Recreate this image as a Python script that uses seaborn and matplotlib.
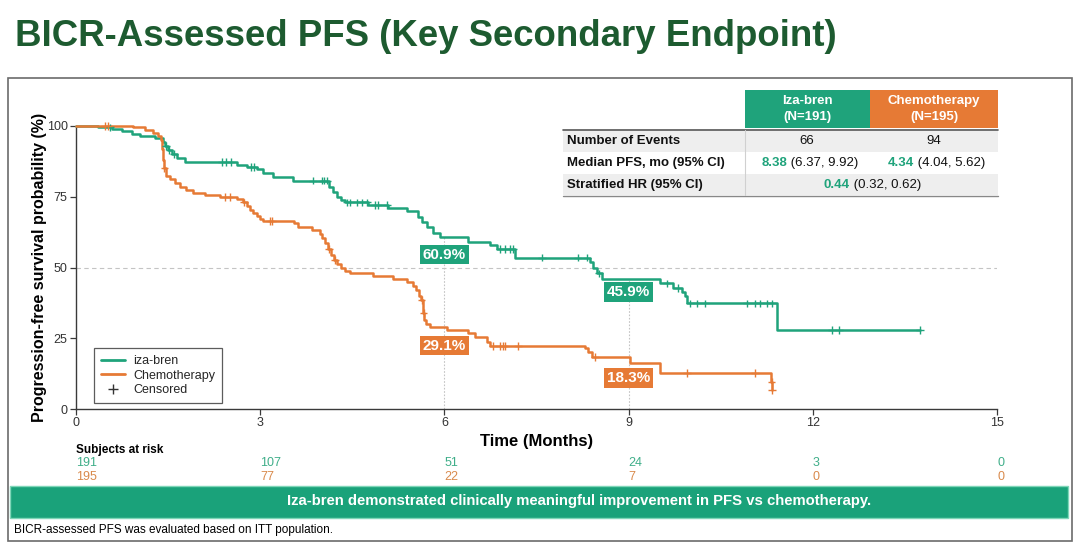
import numpy as np
import pandas as pd
import matplotlib
matplotlib.use("Agg")
import matplotlib.pyplot as plt
import matplotlib.transforms as mtrans
import seaborn as sns
from matplotlib.patches import Rectangle
from matplotlib.lines import Line2D
from matplotlib import font_manager as fm

# ------------------------------------------------------------------ data
months = [0, 3, 6, 9, 12, 15]
pfs_ticks = [0, 25, 50, 75, 100]

iza_time = [0, 0.36, 0.59, 0.75, 0.91, 1.04, 1.29, 1.42, 1.45, 1.50, 1.56, 1.64, 1.78,
            2.62, 2.79, 2.95, 3.05, 3.21, 3.53, 4.12, 4.19, 4.25, 4.32, 4.38, 4.76, 5.08,
            5.39, 5.57, 5.64, 5.72, 5.81, 5.93, 6.38, 6.74, 6.86, 7.15, 8.37, 8.42, 8.49,
            8.57, 9.51, 9.72, 9.87, 9.92, 9.95, 11.42, 13.75]
iza_surv = [100, 99.5, 98.9, 98.1, 97.3, 96.5, 95.6, 94.5, 92.9, 91.5, 90.1, 88.7, 87.3,
            86.2, 85.6, 84.7, 83.3, 82.1, 80.7, 78.4, 76.8, 75.0, 73.9, 73.0, 72.1, 71.2,
            70.1, 68.0, 66.2, 64.4, 62.3, 60.9, 59.1, 57.9, 56.5, 53.5, 52.0, 49.7, 47.9,
            45.9, 44.4, 42.7, 41.5, 39.9, 37.3, 27.9, 27.9]
iza_censor = [0.55, 1.47, 1.52, 1.60, 2.38, 2.45, 2.52, 2.85, 2.90, 3.86, 4.01, 4.04,
              4.09, 4.41, 4.46, 4.58, 4.66, 4.74, 4.87, 4.92, 5.07, 6.91, 6.99, 7.07,
              7.12, 7.59, 8.18, 8.32, 8.52, 9.62, 9.80, 10.00, 10.11, 10.24, 10.93,
              11.06, 11.14, 11.25, 11.34, 12.31, 12.43, 13.75]

chemo_time = [0, 0.93, 1.12, 1.25, 1.34, 1.38, 1.40, 1.42, 1.43, 1.47, 1.53, 1.61, 1.69,
              1.79, 1.91, 2.10, 2.35, 2.62, 2.72, 2.79, 2.83, 2.88, 2.95, 3.00, 3.05,
              3.55, 3.62, 3.84, 3.97, 4.01, 4.06, 4.10, 4.15, 4.20, 4.25, 4.32, 4.38,
              4.46, 4.84, 5.16, 5.39, 5.49, 5.54, 5.59, 5.62, 5.65, 5.67, 5.70, 5.77,
              6.04, 6.38, 6.50, 6.69, 6.74, 8.29, 8.34, 8.40, 9.02, 9.51, 11.32, 11.34]
chemo_surv = [100, 99.5, 98.6, 97.5, 96.5, 95.0, 92.0, 88.0, 85.0, 82.5, 81.3, 79.9, 78.4,
              77.4, 76.3, 75.6, 75.0, 74.2, 73.0, 71.8, 70.4, 69.3, 68.2, 67.2, 66.4,
              65.6, 64.4, 63.3, 62.0, 60.5, 58.7, 56.5, 54.4, 52.7, 51.2, 49.9, 48.8,
              48.0, 47.0, 45.9, 44.8, 43.6, 42.0, 40.0, 38.5, 34.0, 31.5, 30.0, 29.1,
              27.9, 26.7, 25.3, 23.8, 22.3, 21.4, 20.2, 18.3, 16.1, 12.8, 9.6, 6.7]
chemo_censor = [0.47, 0.52, 1.44, 2.43, 2.50, 2.74, 3.16, 3.19, 4.12, 4.22, 5.63, 5.66,
                6.79, 6.91, 6.95, 6.99, 7.20, 8.45, 9.95, 11.06, 11.33, 11.34]

risk_iza = [191, 107, 51, 24, 3, 0]
risk_chemo = [195, 77, 22, 7, 0, 0]

landmarks = [6, 9]
iza_landmark = [60.9, 45.9]
chemo_landmark = [29.1, 18.3]

arm_names = ["iza-bren", "Chemotherapy"]
table_rows = ["Number of Events", "Median PFS, mo (95% CI)", "Stratified HR (95% CI)"]
headers = ["Iza-bren\n(N=191)", "Chemotherapy\n(N=195)"]
events = ["66", "94"]
median_est = ["8.38", "4.34"]
median_ci = [" (6.37, 9.92)", " (4.04, 5.62)"]
hr_est = "0.44"
hr_ci = " (0.32, 0.62)"

title = "BICR-Assessed PFS (Key Secondary Endpoint)"
banner = "Iza-bren demonstrated clinically meaningful improvement in PFS vs chemotherapy."
footnote = "BICR-assessed PFS was evaluated based on ITT population."

# ------------------------------------------------------------------ style
GREEN = "#1fa37b"
ORANGE = "#e67a35"
DARKGREEN = "#1d5b30"
BANNER = "#1aa27a"

sns.set_theme(style="ticks")
avail = {f.name for f in fm.fontManager.ttflist}
NARROW = "Liberation Sans Narrow" if "Liberation Sans Narrow" in avail else "Liberation Sans"
plt.rcParams["font.family"] = [NARROW, "DejaVu Sans"]

W, H = 1080, 544
fig = plt.figure(figsize=(W / 100, H / 100), dpi=100)
fig.patch.set_facecolor("white")


def fx(x):
    return x / W


def fy(y):
    return 1 - y / H


def fit_width(t, target):
    r = fig.canvas.get_renderer()
    bb = t.get_window_extent(r)
    t.set_fontsize(t.get_fontsize() * target / bb.width)


# frame
fig.add_artist(Rectangle((fx(8), fy(541)), fx(1064), 463 / H, transform=fig.transFigure,
                         fill=False, ec="#6b6b6b", lw=1.2))

# title
tt = fig.text(fx(15), fy(37), title, ha="left", va="center", fontsize=30,
              fontweight="bold", color=DARKGREEN)
fit_width(tt, 823)

# ------------------------------------------------------------------ KM axes
ax = fig.add_axes([fx(76), fy(409), 921 / W, 283 / H])

df = pd.concat([
    pd.DataFrame({"Month": iza_time, "PFS": iza_surv, "Arm": arm_names[0]}),
    pd.DataFrame({"Month": chemo_time, "PFS": chemo_surv, "Arm": arm_names[1]}),
])


def surv_at(times, surv, cens):
    idx = np.searchsorted(np.asarray(times), np.asarray(cens), side="right") - 1
    return np.asarray(surv)[idx]


cdf = pd.concat([
    pd.DataFrame({"Month": iza_censor, "PFS": surv_at(iza_time, iza_surv, iza_censor),
                  "Arm": arm_names[0]}),
    pd.DataFrame({"Month": chemo_censor, "PFS": surv_at(chemo_time, chemo_surv, chemo_censor),
                  "Arm": arm_names[1]}),
])
pal = {arm_names[0]: GREEN, arm_names[1]: ORANGE}

# reference lines
ax.axhline(50, color="#c4c4c4", lw=0.8, ls=(0, (4, 3)), zorder=0)
ax.vlines(landmarks, 0, iza_landmark, colors="#c4c4c4", lw=0.8, ls=(0, (1.5, 1.5)), zorder=0)

sns.lineplot(data=df, x="Month", y="PFS", hue="Arm", palette=pal, drawstyle="steps-post",
             estimator=None, sort=False, legend=False, lw=1.8, ax=ax, clip_on=False, zorder=3)
sns.scatterplot(data=cdf, x="Month", y="PFS", hue="Arm", palette=pal, marker="+", s=30,
                linewidth=1.0, legend=False, ax=ax, clip_on=False, zorder=4)

# landmark labels
iza_dy = [-18, -13]
chemo_dy = [-19, -21]
for m, v, dy in zip(landmarks, iza_landmark, iza_dy):
    ax.annotate(f"{v:.1f}%", (m, v), xytext=(0, dy * 0.72), textcoords="offset points",
                ha="center", va="center", color="white", fontsize=11, fontweight="bold",
                bbox=dict(boxstyle="square,pad=0.18", fc=GREEN, ec="none"), zorder=5)
for m, v, dy in zip(landmarks, chemo_landmark, chemo_dy):
    ax.annotate(f"{v:.1f}%", (m, v), xytext=(0, dy * 0.72), textcoords="offset points",
                ha="center", va="center", color="white", fontsize=11, fontweight="bold",
                bbox=dict(boxstyle="square,pad=0.18", fc=ORANGE, ec="none"), zorder=5)

ax.set_xlim(0, 15)
ax.set_ylim(0, 100)
ax.set_xticks(months)
ax.set_yticks(pfs_ticks)
ax.set_xticklabels([str(m) for m in months])
ax.set_yticklabels([str(p) for p in pfs_ticks])
sns.despine(ax=ax)
for s in ["left", "bottom"]:
    ax.spines[s].set_color("#3a3a3a")
    ax.spines[s].set_linewidth(1.0)
ax.tick_params(length=4, width=0.9, color="#3a3a3a", labelsize=9, labelcolor="#333333", pad=2)
ax.set_facecolor("white")

ax.set_xlabel("Time (Months)", fontsize=12, fontweight="bold", color="black")
ax.set_ylabel("Progression-free survival probability (%)", fontsize=11.5, fontweight="bold",
              color="black")
ax.xaxis.set_label_coords(0.5, -0.088)
ax.yaxis.set_label_coords(-0.032, 0.5)

# legend
handles = [Line2D([], [], color=GREEN, lw=2), Line2D([], [], color=ORANGE, lw=2),
           Line2D([], [], color="#333333", marker="+", ls="none", ms=7, mew=1)]
leg = ax.legend(handles, [arm_names[0], arm_names[1], "Censored"], loc="lower left",
                bbox_to_anchor=(0.0195, 0.021), borderaxespad=0, frameon=True, fancybox=False,
                edgecolor="#333333", fontsize=9, handlelength=1.9, handletextpad=0.7,
                labelspacing=0.2, borderpad=0.55)
leg.get_frame().set_linewidth(0.9)

# number at risk
blend = mtrans.blended_transform_factory(ax.transData, ax.transAxes)
ax.text(0, -0.145, "Subjects at risk", transform=blend, ha="left", va="center",
        fontsize=8.5, fontweight="bold", color="black")
for m, a, b in zip(months, risk_iza, risk_chemo):
    ax.text(m, -0.192, str(a), transform=blend, ha="left", va="center", fontsize=9,
            color="#3fae89")
    ax.text(m, -0.241, str(b), transform=blend, ha="left", va="center", fontsize=9,
            color="#d98a4c")

# ------------------------------------------------------------------ summary table
TL, TC, TR = 563, 745, 998
col_mid = [807, 934]
fig.add_artist(Rectangle((fx(TC), fy(128)), fx(870 - TC), 38 / H, transform=fig.transFigure,
                         fc=GREEN, ec="none"))
fig.add_artist(Rectangle((fx(870), fy(128)), fx(TR - 870), 38 / H, transform=fig.transFigure,
                         fc=ORANGE, ec="none"))
for cx, h in zip(col_mid, headers):
    fig.text(fx(cx), fy(109), h, ha="center", va="center", color="white", fontsize=9.5,
             fontweight="bold", linespacing=1.35)
for (y0, y1) in [(130.5, 152), (174, 195)]:
    fig.add_artist(Rectangle((fx(TL), fy(y1)), fx(TR - TL), (y1 - y0) / H,
                             transform=fig.transFigure, fc="#eeeeee", ec="none"))
fig.add_artist(Line2D([fx(TL), fx(TR)], [fy(129.5), fy(129.5)], transform=fig.transFigure,
                      color="#555555", lw=1.2))
fig.add_artist(Line2D([fx(TL), fx(TR)], [fy(195.5), fy(195.5)], transform=fig.transFigure,
                      color="#888888", lw=1.0))
fig.add_artist(Line2D([fx(TC), fx(TC)], [fy(130), fy(195)], transform=fig.transFigure,
                      color="#d0d0d0", lw=0.8))
row_y = [141, 163, 185]
for y, lab in zip(row_y, table_rows):
    fig.text(fx(567), fy(y), lab, ha="left", va="center", fontsize=9.5, fontweight="bold",
             color="#111111")
for cx, e in zip(col_mid, events):
    fig.text(fx(cx), fy(row_y[0]), e, ha="center", va="center", fontsize=9.5, color="#111111")
for split, est, ci in zip([787, 914], median_est, median_ci):
    fig.text(fx(split), fy(row_y[1]), est, ha="right", va="center", fontsize=9.5,
             fontweight="bold", color=GREEN)
    fig.text(fx(split), fy(row_y[1]), ci, ha="left", va="center", fontsize=9.5,
             color="#111111")
fig.text(fx(850), fy(row_y[2]), hr_est, ha="right", va="center", fontsize=9.5,
         fontweight="bold", color=GREEN)
fig.text(fx(850), fy(row_y[2]), hr_ci, ha="left", va="center", fontsize=9.5, color="#111111")

# ------------------------------------------------------------------ banner + footnote
fig.add_artist(Rectangle((fx(10), fy(518)), fx(1058), 32 / H, transform=fig.transFigure,
                         fc=BANNER, ec="#7fd6b8", lw=1.0))
bt = fig.text(fx(579), fy(501.5), banner, ha="center", va="center", fontsize=15,
              fontweight="bold", color="white")
fit_width(bt, 592)
ft = fig.text(fx(14), fy(530), footnote, ha="left", va="center", fontsize=9, color="black")
fit_width(ft, 320)

fig.savefig("out.png", dpi=100, facecolor="white")
